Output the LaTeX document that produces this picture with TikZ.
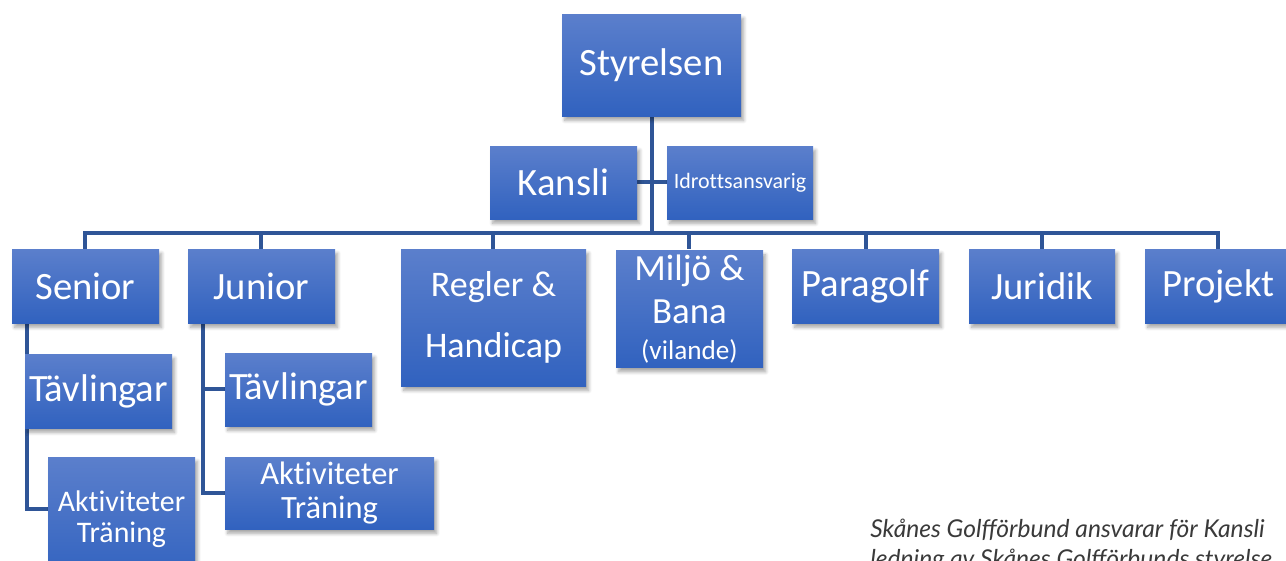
\documentclass[tikz,border=0pt]{standalone}
\usepackage{fontspec}
\setmainfont{Carlito}[Ligatures={NoCommon}]
\newfontfamily\notefont{Lato}
\usetikzlibrary{shadows.blur}

\definecolor{boxtop}{HTML}{5B7FCC}
\definecolor{boxbot}{HTML}{3162BF}
\definecolor{linkblue}{HTML}{2F5597}
\definecolor{notegray}{HTML}{3A3A3A}

\begin{document}
\begin{tikzpicture}[
    x=0.02cm, y=-0.02cm,
    unit/.style 2 args={
        minimum width=#1*0.02cm, minimum height=#2*0.02cm,
        inner sep=0pt, align=center, text=white,
        top color=boxtop, bottom color=boxbot,
        blur shadow={shadow xshift=1.5pt, shadow yshift=-2.5pt, shadow opacity=35, shadow blur steps=6}
    },
    big/.style={font=\fontsize{22}{26}\selectfont},
    link/.style={draw=linkblue, line width=1.9pt}
]
    \useasboundingbox (0,0) rectangle (1286,561);
    \clip (0,0) rectangle (1286,561);

    % connectors first, the boxes cover their ends
    \coordinate (bus) at (652,233);
    \coordinate (trunk) at (652,116);
    \coordinate (sline) at (27,323);
    \coordinate (jline) at (203,323);
    \draw[link] (trunk) -- (bus);
    \draw[link] (637,182) -- (667,182);
    \foreach \x in {85,261,493,689,866,1042,1218}
        \draw[link] (bus) -| (\x,249);
    \draw[link] (sline) |- (48,509);
    \draw[link] (jline) |- (225,389);
    \draw[link] (jline) |- (225,493);

    % board and office
    \node[unit={179}{102}, big] (styrelsen) at (651.5,65) {Styrelsen};
    \node[unit={147}{73}, big] (kansli) at (563.5,182.5) {Kansli};
    \node[unit={146}{73}, font=\fontsize{12.5}{15}\selectfont] (idrott) at (740,182.5) {Idrottsansvarig};

    % committees
    \node[unit={147}{74}, big] (senior) at (85.5,286) {Senior};
    \node[unit={147}{74}, big] (junior) at (261.5,286) {Junior};
    \node[unit={185}{137}, font=\fontsize{20.5}{35}\selectfont] (regler) at (493.5,317.5) {Regler \&\\Handicap};
    \node[unit={147}{117}, font=\fontsize{21}{24.5}\selectfont] (miljo) at (689.5,309)
        {Miljö \&\\Bana\\[-4pt]{\fontsize{15.5}{17}\selectfont(vilande)}};
    \node[unit={147}{74}, big] (paragolf) at (865.5,286) {Paragolf};
    \node[unit={146}{74}, big] (juridik) at (1042,286) {Juridik};
    \node[unit={147}{74}, big] (projekt) at (1218.5,286) {Projekt};

    % senior and junior groups
    \node[unit={147}{74}, big] (stav) at (98.5,391) {Tävlingar};
    \node[unit={147}{125}, font=\fontsize{17}{17.6}\selectfont] (saktiv) at (121.5,519.5) {Aktiviteter\\Träning};
    \node[unit={147}{73}, big] (jtav) at (298.5,389.5) {Tävlingar};
    \node[unit={209}{72}, font=\fontsize{18.5}{18.8}\selectfont] (jaktiv) at (329.5,493) {Aktiviteter\\Träning};

    % note, cut by the page edge (base = last line)
    \node[anchor=base west, inner sep=0pt, text=notegray, align=left,
          font=\notefont\itshape\fontsize{14}{17}\selectfont] (note) at (870,567)
        {Skånes Golfförbund ansvarar för Kansli\\ledning av Skånes Golfförbunds styrelse};
\end{tikzpicture}
\end{document}
